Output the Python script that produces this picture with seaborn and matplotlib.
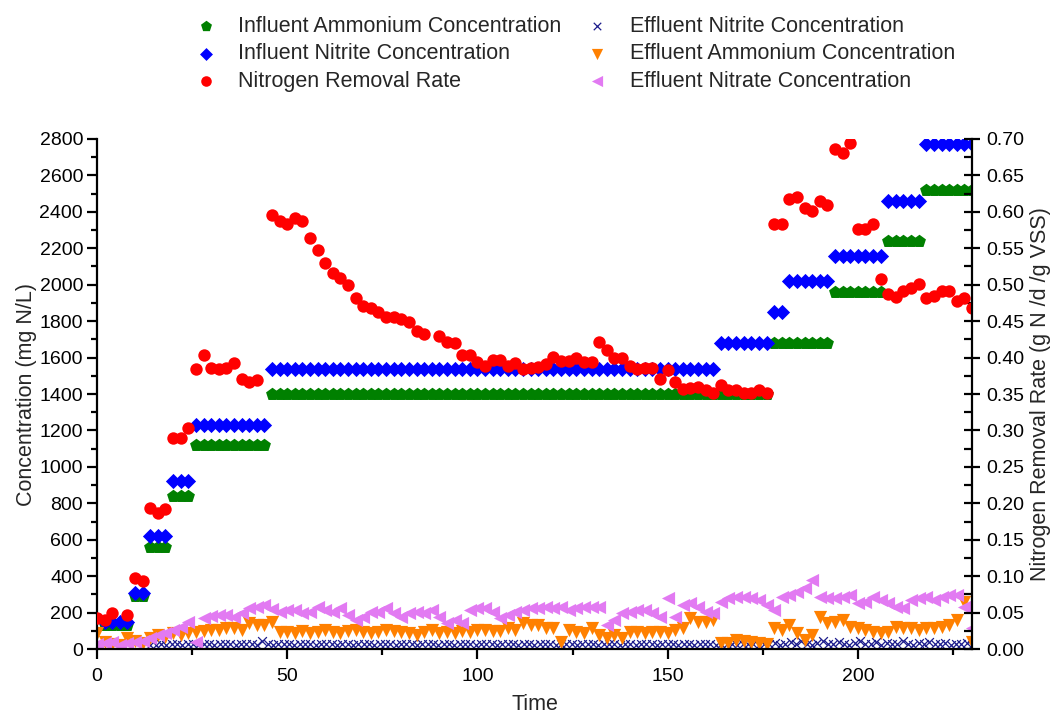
import numpy as np
import pandas as pd
import matplotlib
matplotlib.use("Agg")
import matplotlib.pyplot as plt
import seaborn as sns
from matplotlib.ticker import MultipleLocator, FormatStrFormatter

nan = np.nan

# ---------------- data ----------------
infl_days = list(range(2, 231, 2))
infl_ammonium = [
    130, 130, 130, 130, 290, 290, 560, 560, 560, 840, 840, 840,
    1120, 1120, 1120, 1120, 1120, 1120, 1120, 1120, 1120, 1120,
    1400, 1400, 1400, 1400, 1400, 1400, 1400, 1400, 1400, 1400,
    1400, 1400, 1400, 1400, 1400, 1400, 1400, 1400, 1400, 1400,
    1400, 1400, 1400, 1400, 1400, 1400, 1400, 1400, 1400, 1400,
    1400, 1400, 1400, 1400, 1400, 1400, 1400, 1400, 1400, 1400,
    1400, 1400, 1400, 1400, 1400, 1400, 1400, 1400, 1400, 1400,
    1400, 1400, 1400, 1400, 1400, 1400, 1400, 1400, 1400, 1400,
    1400, 1400, 1400, 1400, 1400, 1400,
    1680, 1680, 1680, 1680, 1680, 1680, 1680, 1680,
    1960, 1960, 1960, 1960, 1960, 1960, 1960,
    2240, 2240, 2240, 2240, 2240,
    2520, 2520, 2520, 2520, 2520, 2520, 2520,
]
infl_nitrite = [
    150, 150, 150, 150, 310, 310, 620, 620, 620, 920, 920, 920,
    1230, 1230, 1230, 1230, 1230, 1230, 1230, 1230, 1230, 1230,
    1540, 1540, 1540, 1540, 1540, 1540, 1540, 1540, 1540, 1540,
    1540, 1540, 1540, 1540, 1540, 1540, 1540, 1540, 1540, 1540,
    1540, 1540, 1540, 1540, 1540, 1540, 1540, 1540, 1540, 1540,
    1540, 1540, 1540, 1540, 1540, 1540, 1540, 1540, 1540, 1540,
    1540, 1540, 1540, 1540, 1540, 1540, 1540, 1540, 1540, 1540,
    1540, 1540, 1540, 1540, 1540, 1540, 1540, 1540, 1540,
    1680, 1680, 1680, 1680, 1680, 1680, 1680,
    1850, 1850,
    2020, 2020, 2020, 2020, 2020, 2020,
    2160, 2160, 2160, 2160, 2160, 2160, 2160,
    2460, 2460, 2460, 2460, 2460,
    2770, 2770, 2770, 2770, 2770, 2770, 2770,
]

days = list(range(0, 231, 2))
removal_rate = [
    0.043, 0.040, 0.049, nan, 0.046, 0.097, 0.094, 0.194, 0.187, 0.192,
    0.289, 0.289, 0.304, 0.385, 0.403, 0.386, 0.385, 0.386, 0.393, 0.371,
    0.367, 0.369, nan, 0.595, 0.587, 0.584,
    0.591, 0.587, 0.564, 0.547, 0.530, 0.516, 0.509, 0.499, 0.482, 0.471,
    0.468, 0.462, 0.456, 0.456, 0.453, 0.449, 0.437, 0.433, nan, 0.430,
    0.421, 0.420, 0.403, 0.403, 0.394,
    0.389, 0.397, 0.396, 0.389, 0.393, 0.385, 0.386, 0.387, 0.391, 0.401,
    0.395, 0.395, 0.400, 0.394, 0.394, 0.422, 0.411, 0.400, 0.399, 0.389,
    0.385, 0.386, 0.386, 0.371, 0.383,
    0.366, 0.357, 0.358, 0.359, 0.355, 0.352, 0.363, 0.356, 0.355, 0.351,
    0.352, 0.356, 0.351, 0.584, 0.584, 0.618, 0.621, 0.605, 0.601, 0.615,
    0.609, 0.686, 0.681, 0.695, 0.577,
    0.577, 0.583, 0.508, 0.487, 0.483, 0.491, 0.496, 0.501, 0.482, 0.485,
    0.492, 0.491, 0.478, 0.482, 0.468,
]
eff_ammonium = [
    86, 40, 30, 20, 59, 46, 35, 60, 77, 68, 86, 77, 86, 95, 100, 104, 104,
    114, 114, 104, 141, 132, 132, 150, 95, 95,
    90, 100, 86, 95, 104, 95, 86, 100, 104, 95, 86, 95, 104, 100, 95, 86,
    77, 95, 104, 86, 95, 86, 100, 95, 104,
    104, 100, 100, 114, 104, 141, 132, 132, 114, 114, 40, 104, 95, 86, 114,
    77, 59, 77, 59, 95, 95, 86, 95, 95, 86,
    104, 114, 168, 150, 150, 159, 31, 31, 49, 45, 40, 31, 27, 114, 104,
    132, 86, 49, 77, 178, 141, 150, 159, 123, 114,
    104, 95, 86, 95, 123, 114, 114, 104, 114, 114, 123, 132, 159, 260, 40,
]
eff_nitrate = [
    25, 31, 40, 22, 31, 40, 45, 60, 75, 90, 104, 123, 150, 40, 168, 180,
    187, 187, 178, 200, 223, 233, 242, 218, 205, 214,
    214, 196, 205, 233, 214, 205, 223, 187, 159, 178, 205, 205, 223, 196,
    178, 196, 205, 196, 214, 178, 141, 159, 141, 214, 223,
    223, 205, 168, 187, 205, 214, 223, 223, 233, 223, 233, 214, 223, 233,
    233, 233, 132, 160, 196, 205, 214, 214, 196, 178, 278,
    178, 242, 251, 233, 205, 196, 260, 278, 288, 288, 278, 269, 242, 214,
    288, 297, 315, 333, 379, 288, 278, 278, 288, 297, 251,
    260, 288, 269, 251, 233, 223, 269, 278, 288, 269, 288, 297, 297, 233, 113,
]
eff_nitrite = [
    20, 22, 25, 24, 26, 25, 23, 25, 26, 24,
    25, 25, 24, 26, 25, 25, 24, 25, 26, 25,
    24, 42, 25, 24, 26, 25, 25, 24, 25, 26,
    25, 24, 25, 25, 26, 24, 25, 25, 24, 26,
    25, 25, 24, 25, 26, 25, 24, 25, 25, 26,
    24, 25, 25, 26, 24, 25, 25, 24, 26, 25,
    25, 24, 25, 26, 25, 24, 25, 25, 26, 24,
    25, 25, 24, 26, 25, 25, 24, 25, 26, 25,
    24, 25, 26, 25, 24, 25, 25, 26, 24, 25,
    25, 24, 26, 25, 25, 24, 25, 26, 25, 24,
    25, 25, 24, 26, 25, 25, 24, 25, 26, 25,
    24, 25, 26, 25, 24, 25,
    25, 35, 20, 30, 40, 25, 45, 30, 20, 35,
    45, 30, 25, 40, 30, 20, 35, 45, 25, 30,
    40, 20, 35, 30, 25, 45, 30, 20, 35, 25,
    40, 30, 25, 35, 20, 30, 25, 35, 20,
]
nitrite_days = np.linspace(14, 230, len(eff_nitrite))

# ---------------- figure ----------------
sns.set_theme(style="ticks")
plt.rcParams["font.family"] = ["Liberation Sans", "DejaVu Sans"]

fig = plt.figure(figsize=(10.52, 7.15), dpi=100)
ax = fig.add_axes([0.0922, 0.0923, 0.8317, 0.7133])
ax2 = ax.twinx()

sns.scatterplot(x=infl_days, y=infl_ammonium, ax=ax, marker="p", s=95,
                color="#008000", linewidth=0, legend=False,
                label="Influent Ammonium Concentration")
sns.scatterplot(x=infl_days, y=infl_nitrite, ax=ax, marker="D", s=60,
                color="#0000FF", linewidth=0, legend=False,
                label="Influent Nitrite Concentration")
sns.scatterplot(x=nitrite_days, y=eff_nitrite, ax=ax, marker="x", s=40,
                color="#1C1C8C", linewidth=0.9, legend=False,
                label="Effluent Nitrite Concentration")
sns.scatterplot(x=days, y=eff_ammonium, ax=ax, marker="v", s=90,
                color="#FF8000", linewidth=0, legend=False,
                label="Effluent Ammonium Concentration")
sns.scatterplot(x=days, y=eff_nitrate, ax=ax, marker="<", s=90,
                color="#E27AF2", linewidth=0, legend=False,
                label="Effluent Nitrate Concentration")
sns.scatterplot(x=days, y=removal_rate, ax=ax2, marker="o", s=80,
                color="#FF0000", linewidth=0, legend=False,
                label="Nitrogen Removal Rate")

ax.set_xlim(0, 230)
ax.set_ylim(0, 2800)
ax2.set_ylim(0, 0.70)

for a in (ax, ax2):
    a.spines["top"].set_visible(False)
    for sp in a.spines.values():
        sp.set_color("black")
        sp.set_linewidth(1.6)
ax.spines["right"].set_visible(False)
ax2.spines["left"].set_visible(False)
ax2.spines["bottom"].set_visible(False)

ax.xaxis.set_major_locator(MultipleLocator(50))
ax.xaxis.set_minor_locator(MultipleLocator(25))
ax.yaxis.set_major_locator(MultipleLocator(200))
ax.yaxis.set_minor_locator(MultipleLocator(100))
ax2.yaxis.set_major_locator(MultipleLocator(0.05))
ax2.yaxis.set_minor_locator(MultipleLocator(0.025))
ax2.yaxis.set_major_formatter(FormatStrFormatter("%.2f"))

ax.tick_params(axis="both", which="major", direction="out", length=7,
               width=1.6, labelsize=14, colors="black", pad=3)
ax.tick_params(axis="x", which="major", pad=6.5)
ax.tick_params(axis="both", which="minor", direction="out", length=4,
               width=1.6, colors="black")
ax.tick_params(axis="y", right=False, which="both")
ax2.tick_params(axis="y", which="major", direction="inout", length=12,
                width=1.6, labelsize=14, colors="black", pad=4)
ax2.tick_params(axis="y", which="minor", direction="in", length=6,
                width=1.6, colors="black")

ax.set_xlabel("Time", fontsize=15.5, labelpad=7)
ax.set_ylabel("Concentration (mg N/L)", fontsize=15.5, labelpad=2)
ax2.set_ylabel("Nitrogen Removal Rate (g N /d /g VSS)", fontsize=15.5,
               labelpad=4)

h1, l1 = ax.get_legend_handles_labels()
h2, l2 = ax2.get_legend_handles_labels()
hd = dict(zip(l1 + l2, h1 + h2))
order = ["Influent Ammonium Concentration", "Influent Nitrite Concentration",
         "Nitrogen Removal Rate", "Effluent Nitrite Concentration",
         "Effluent Ammonium Concentration", "Effluent Nitrate Concentration"]
fig.legend([hd[k] for k in order], order, ncol=2, loc="upper left",
           bbox_to_anchor=(0.167, 1.005), frameon=False, fontsize=15.5,
           handlelength=1.0, handletextpad=1.0, columnspacing=1.17,
           labelspacing=0.3, markerscale=0.85)

fig.savefig("out.png", dpi=100)
